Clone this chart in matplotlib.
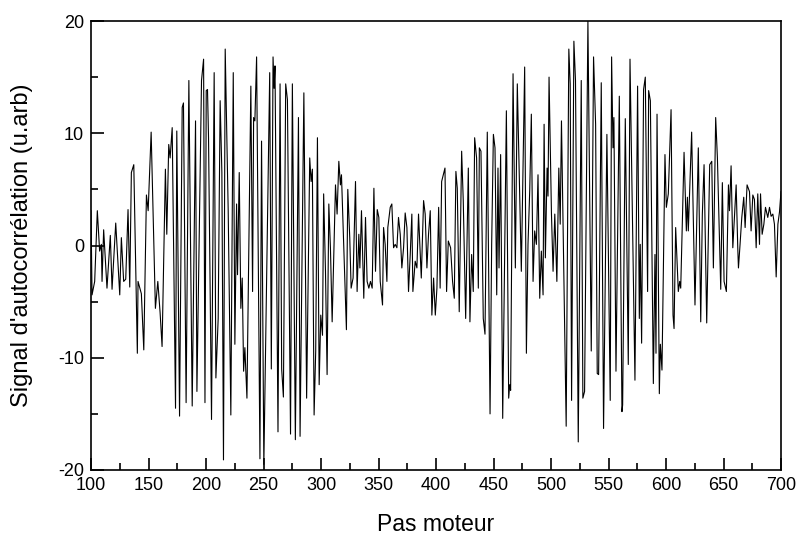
import matplotlib
matplotlib.use("Agg")
import matplotlib.pyplot as plt
from matplotlib.ticker import MultipleLocator

plt.rcParams['font.family'] = ['Liberation Sans', 'DejaVu Sans']
plt.rcParams['axes.unicode_minus'] = False

steps = [100.0, 100.9, 103.2, 105.5, 107.5, 109.0, 109.6, 111.0, 113.9, 116.8, 118.3, 121.5, 125.0, 126.4,
         128.4, 130.2, 132.2, 133.7, 135.1, 137.2, 140.3, 140.9, 143.8, 145.9, 148.2, 149.7, 152.3,
         156.0, 158.1, 160.1, 161.8, 164.7, 165.9, 167.6, 168.8, 170.6, 173.5, 174.6, 177.0, 179.3, 180.4,
         182.7, 185.1, 188.0, 190.9, 192.1, 196.1, 197.9, 199.1, 200.2, 201.3, 202.2, 204.8, 207.1, 208.6,
         210.6, 212.3, 213.8, 215.2, 216.7, 219.3, 221.6, 223.7, 225.1, 226.6, 227.4, 228.9, 230.3, 231.5,
         232.7, 233.8, 235.6, 239.0, 240.5, 241.4, 242.5, 244.0, 246.9, 248.3, 250.3, 255.4, 256.8, 258.3,
         259.2, 260.0, 262.6, 264.4, 265.8, 267.3, 269.3, 270.8, 273.5, 275.1, 277.7, 280.4, 281.8, 285.1,
         287.5, 290.2, 291.4, 292.5, 294.0, 295.4, 296.9, 298.4, 299.8, 301.3, 302.3, 303.9, 305.3, 306.8,
         308.2, 309.7, 312.6, 314.0, 315.5, 316.9, 317.8, 319.8, 322.1, 323.3, 325.0, 326.2, 327.9, 330.0,
         331.4, 332.9, 333.8, 335.2, 337.2, 338.7, 340.1, 341.6, 343.0, 344.5, 346.0, 347.4, 348.9, 350.3,
         351.5, 353.5, 354.4, 355.8, 357.3, 358.1, 360.2, 361.6, 363.1, 364.5, 366.0, 367.4, 368.9, 370.3,
         371.8, 373.2, 374.7, 376.1, 377.6, 379.0, 379.9, 381.9, 383.4, 384.8, 387.2, 389.2, 390.6, 392.1,
         393.5, 395.0, 396.4, 397.9, 399.4, 400.8, 402.3, 403.6, 404.9, 407.8, 409.2, 410.7, 412.7, 414.4,
         415.9, 417.3, 418.5, 420.2, 422.3, 423.7, 425.8, 428.1, 429.5, 431.0, 432.4, 433.6, 435.3, 436.8,
         437.7, 439.1, 441.1, 442.6, 444.6, 447.0, 448.4, 449.9, 451.3, 452.8, 453.9, 454.8, 456.2, 458.0,
         461.2, 463.2, 464.1, 464.9, 467.0, 469.0, 470.7, 474.2, 477.1, 478.6, 480.0, 481.5, 482.9, 484.4,
         485.8, 487.3, 488.7, 490.2, 491.6, 493.1, 494.0, 495.1, 496.6, 497.4, 498.3, 500.4, 501.8, 503.3,
         505.1, 506.8, 508.0, 509.1, 513.2, 515.5, 516.7, 517.9, 519.9, 521.3, 523.7, 526.3, 527.7, 529.2,
         532.1, 535.0, 537.0, 538.8, 540.2, 541.4, 543.7, 545.7, 548.6, 551.5, 552.7, 553.9, 554.7, 556.5,
         559.4, 561.7, 562.3, 564.6, 567.2, 568.7, 573.0, 575.3, 576.8, 577.6, 578.8, 580.5, 582.0, 584.0,
         584.9, 586.4, 589.0, 590.4, 591.3, 592.2, 594.2, 595.1, 596.5, 599.1, 600.3, 602.0, 604.4, 606.1,
         607.0, 608.4, 610.7, 611.9, 612.8, 615.7, 617.7, 618.6, 619.4, 622.3, 625.2, 628.1, 630.2, 631.6,
         633.1, 635.4, 638.0, 639.8, 641.2, 643.2, 644.7, 647.6, 649.0, 650.5, 652.5, 654.3, 655.2, 656.6,
         658.1, 659.5, 661.0, 662.4, 663.0, 664.4, 665.9, 667.6, 668.8, 670.5, 672.6, 674.0, 675.5, 676.9,
         678.4, 679.8, 681.3, 682.2, 683.6, 685.1, 686.5, 688.5, 690.0, 691.4, 692.9, 694.3, 695.8, 697.3,
         698.7, 700.0]

signal = [3.1, -4.4, -3.2, 3.1, -0.5, 0.1, -3.2, 1.4, -3.8, 0.9, -3.9, 2.0, -4.4, 0.7,
          -3.2, -3.0, 3.2, -3.7, 6.5, 7.2, -9.6, -3.2, -4.3, -9.3, 4.5, 3.1, 10.1,
          -5.6, -3.2, -6.0, -9.0, 6.8, 1.0, 9.0, 7.8, 10.5, -14.5, 10.2, -15.2, 12.3, 12.7,
          -14.0, 14.7, -14.3, 11.1, -13.0, 14.7, 16.6, -14.0, 13.8, 13.9, 9.6, -15.5, 15.4, -11.8,
          -6.5, 12.9, 6.5, -19.1, 17.5, 3.1, -15.1, 15.4, -8.8, 3.7, -2.6, 6.5, -5.6, -2.9,
          -11.2, -9.1, -13.6, 14.2, -4.1, 11.4, 11.1, 16.8, -19.0, 9.3, -19.5, 15.4, -11.0, 16.8,
          14.0, 16.0, -16.6, 14.4, -11.0, -13.5, 14.4, 13.0, -16.8, 14.4, -17.3, 11.4, -17.0, 13.6,
          -13.6, 7.8, 5.7, 6.8, -15.1, -9.4, 9.6, -12.4, -6.2, -8.0, 4.6, -2.3, -11.5, 3.7,
          -0.2, -6.8, 5.4, 2.8, 7.5, 5.4, 6.3, -0.2, -7.5, 5.0, 0.7, -3.8, -2.9, 5.7,
          -4.1, 1.0, -2.0, 3.1, -4.7, 2.5, -3.2, -3.8, -3.2, -3.8, 5.1, -2.3, 3.2, 2.5,
          -3.2, -5.3, 1.6, 0.1, -3.2, 1.6, 3.4, 3.7, -0.2, 0.1, -0.2, 2.5, 1.0, -2.0,
          -0.2, 2.9, 1.6, -4.1, -0.8, 2.8, -4.1, -1.4, -2.0, 2.8, -2.9, 4.0, 2.8, -2.0,
          1.0, 3.1, -6.2, -2.9, -6.2, -3.8, 3.4, -3.8, 5.7, 6.9, -4.1, 0.4, -0.2, -3.2,
          -4.7, 6.6, 5.1, -5.9, 8.4, 4.0, -6.5, 6.9, -6.8, -0.8, -4.1, 9.6, 7.8, -3.8,
          8.7, 8.4, -6.5, -7.9, 10.1, -15.0, 0.1, 9.9, 8.7, -4.4, 6.9, -2.0, 8.1, -15.4,
          12.0, -13.6, -12.4, -12.9, 15.3, -2.0, 14.4, -2.3, 15.9, -9.6, 0.1, 4.9, 11.7, -3.2,
          1.3, 0.1, 6.3, -4.7, -0.5, -4.4, 10.8, -1.1, 6.9, 4.4, 15.0, 2.8, -2.3, 2.8,
          -3.2, 6.9, 1.9, 11.1, -16.1, 17.5, 14.4, -13.8, 18.2, 14.7, -17.5, 14.7, -13.6, -13.0,
          20.0, -9.4, 16.8, 10.8, -11.4, -11.5, 14.5, -16.3, 9.9, -13.8, 16.8, 8.7, 11.4, -11.2,
          13.3, -14.8, -14.2, 11.3, -10.6, 16.6, -12.0, 14.2, -6.5, 0.1, -8.7, 13.9, 15.0, -4.1,
          13.8, 12.9, -12.3, -0.8, -9.6, 11.7, -13.2, -8.8, -11.1, 8.1, 3.4, 4.6, 12.1, -6.2,
          -7.4, 1.6, -4.1, -3.2, -3.8, 8.3, 1.3, 4.3, 1.3, 10.1, -5.3, 8.7, -6.8, 2.8,
          7.2, -6.9, 7.2, 7.5, -2.0, 11.4, 7.8, -3.9, 5.6, -3.2, -4.1, 5.4, 3.1, 7.1,
          -0.2, 2.5, 5.4, -0.2, -2.0, 0.1, 2.5, 4.3, 1.6, 5.4, 4.8, 1.3, 4.5, 4.1,
          -0.2, 4.6, 0.1, 4.6, 1.0, 1.9, 3.4, 2.5, 3.4, 2.6, 2.8, 1.9, -2.8, 1.9,
          3.0, 4.8]

x_ticks = [100, 150, 200, 250, 300, 350, 400, 450, 500, 550, 600, 650, 700]
y_ticks = [-20, -10, 0, 10, 20]

W, H = 811, 540
fig = plt.figure(figsize=(W / 100, H / 100), dpi=100)
ax = fig.add_axes([91 / W, 1 - 470 / H, (781 - 91) / W, (470 - 21) / H])

ax.plot(steps, signal, color='black', linewidth=0.8)

ax.set_xlim(100, 700)
ax.set_ylim(-20, 20)
ax.set_xticks(x_ticks)
ax.set_yticks(y_ticks)
ax.xaxis.set_minor_locator(MultipleLocator(25))
ax.yaxis.set_minor_locator(MultipleLocator(5))
ax.tick_params(which='major', direction='in', length=9, width=1.2, labelsize=13,
               top=False, right=False, pad=5)
ax.tick_params(which='minor', direction='in', length=5, width=1.2, top=False, right=False)
for s in ax.spines.values():
    s.set_linewidth(1.2)

ax.set_xlabel('Pas moteur', fontsize=16.5, labelpad=14)
ax.set_ylabel("Signal d'autocorrélation (u.arb)", fontsize=17, labelpad=18)

fig.savefig('out.png', dpi=100)
